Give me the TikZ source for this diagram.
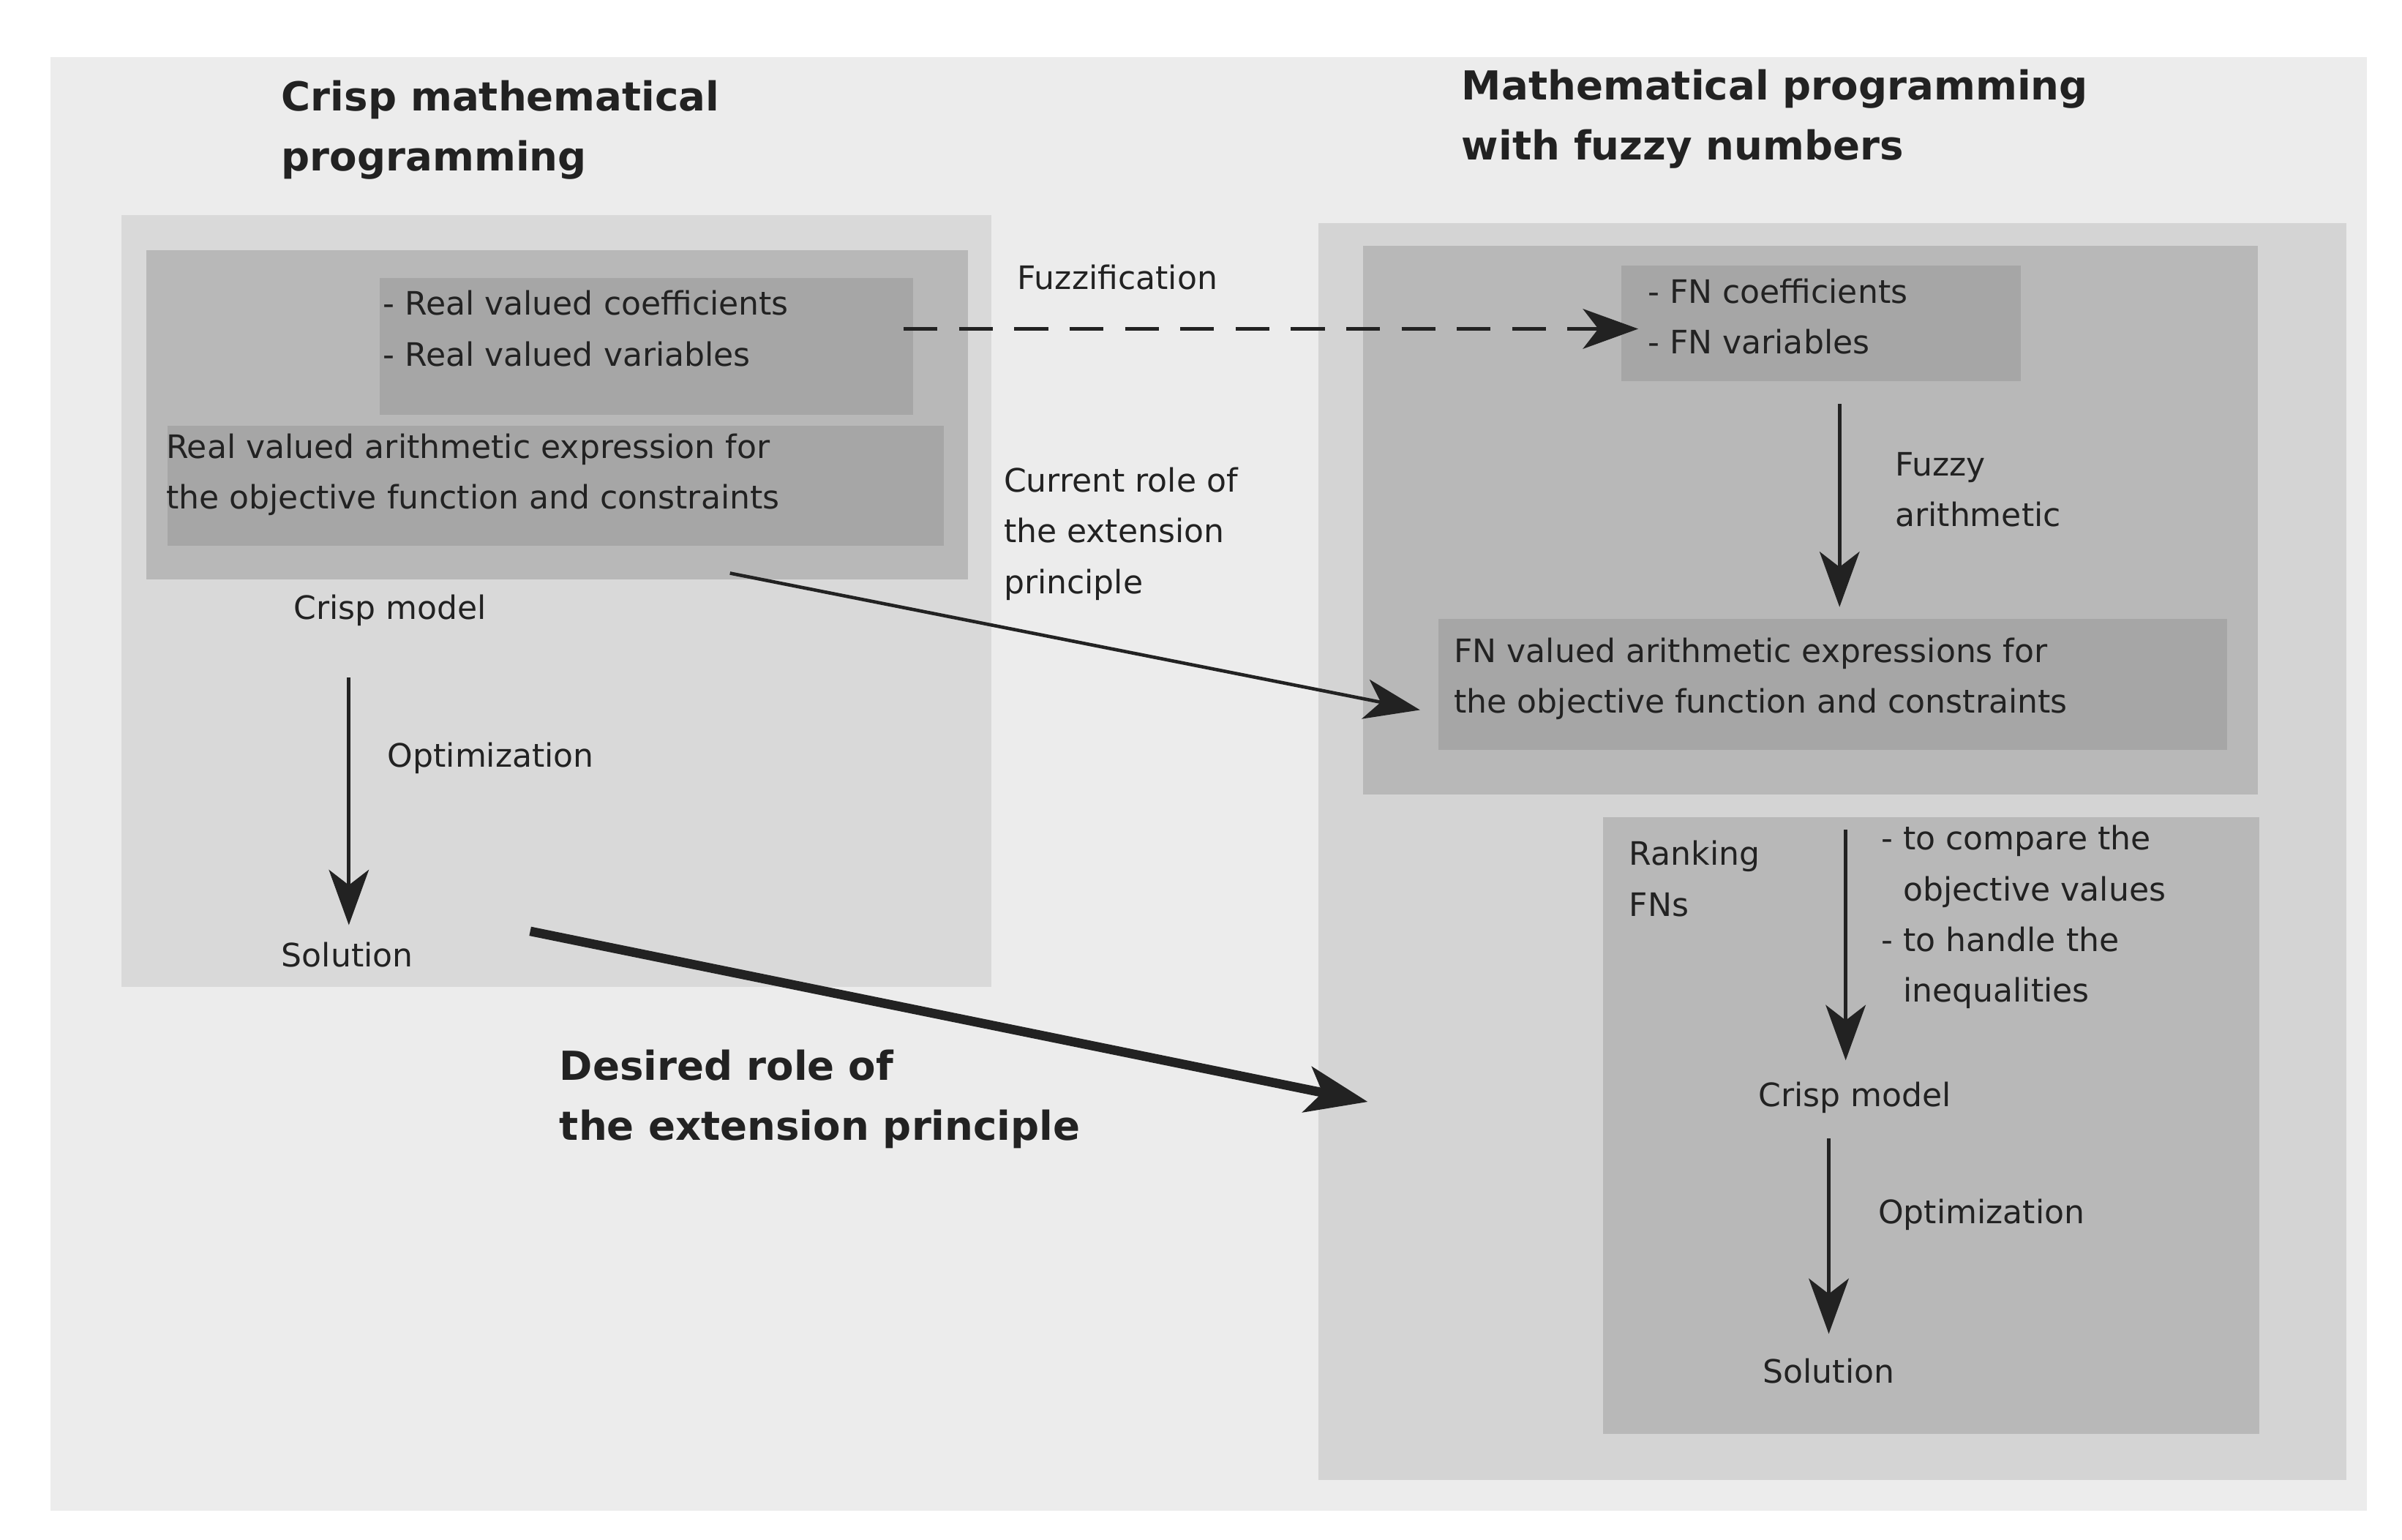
\documentclass[tikz,border=0pt]{standalone}
\usepackage{fontspec}
\setmainfont{DejaVu Sans}
\usetikzlibrary{arrows.meta}
\definecolor{txt}{HTML}{222222}
\begin{document}
\begin{tikzpicture}[x=1pt,y=-1pt,
  lbl/.style={anchor=north west,inner sep=0pt,text=txt,font=\fontsize{21}{33}\selectfont,align=left},
  ttl/.style={anchor=north west,inner sep=0pt,text=txt,font=\fontsize{26}{39}\selectfont\bfseries,align=left},
  arr/.style={-{Stealth[length=36pt,width=26pt,inset=10pt]},line width=2.2pt,draw=txt}]
\useasboundingbox (0,0) rectangle (1563,1002);
\fill[white] (0,0) rectangle (1563,1002);
\fill[color={rgb,255:red,236;green,236;blue,236}] (33,37) rectangle (1540,983);
\fill[color={rgb,255:red,217;green,217;blue,217}] (79,140) rectangle (645,642);
\fill[color={rgb,255:red,184;green,184;blue,184}] (95,163) rectangle (630,377);
\fill[color={rgb,255:red,166;green,166;blue,166}] (247,181) rectangle (594,270);
\fill[color={rgb,255:red,166;green,166;blue,166}] (109,277) rectangle (614,355);
\fill[color={rgb,255:red,212;green,212;blue,212}] (858,145) rectangle (1527,963);
\fill[color={rgb,255:red,184;green,184;blue,184}] (887,160) rectangle (1469,517);
\fill[color={rgb,255:red,166;green,166;blue,166}] (1055,173) rectangle (1315,248);
\fill[color={rgb,255:red,166;green,166;blue,166}] (936,403) rectangle (1449,488);
\fill[color={rgb,255:red,184;green,184;blue,184}] (1043,532) rectangle (1470,933);

\node[ttl] (t1) at (183,52) {Crisp mathematical\\programming};
\node[ttl] (t2) at (951,45) {Mathematical programming\\with fuzzy numbers};
\node[lbl] (coef) at (249,189) {- Real valued coefficients\\- Real valued variables};
\node[lbl] (arith) at (108,282) {Real valued arithmetic expression for\\the objective function and constraints};
\node[lbl] (cm1) at (191,387) {Crisp model};
\node[lbl] (opt1) at (252,483) {Optimization};
\node[lbl] (sol1) at (183,613) {Solution};
\node[lbl] (fuzz) at (662,172) {Fuzzification};
\node[lbl] (cur) at (653,304) {Current role of\\the extension\\principle};
\node[lbl] (fnc) at (1072,181) {- FN coefficients\\- FN variables};
\node[lbl] (fa) at (1233,294) {Fuzzy\\arithmetic};
\node[lbl] (fnar) at (946,415) {FN valued arithmetic expressions for\\the objective function and constraints};
\node[lbl] (rank) at (1060,547) {Ranking\\FNs};
\node[lbl] (cmp) at (1224,537) {- to compare the\\\hphantom{- }objective values\\- to handle the\\\hphantom{- }inequalities};
\node[lbl] (cm2) at (1144,704) {Crisp model};
\node[lbl] (opt2) at (1222,780) {Optimization};
\node[lbl] (sol2) at (1147,884) {Solution};
\node[ttl] (des) at (364,683) {Desired role of\\the extension principle};

\coordinate (a1) at (588,214); \coordinate (a2) at (1066,214);
\draw[arr,dashed,dash pattern=on 22pt off 14pt] (a1) -- (a2);
\coordinate (b1) at (227,441); \coordinate (b2) at (227,602);
\draw[arr] (b1) -- (b2);
\coordinate (c1) at (475,373); \coordinate (c2) at (924,462);
\draw[arr] (c1) -- (c2);
\coordinate (d1) at (345,606); \coordinate (d2) at (890,717);
\draw[arr,line width=6pt,-{Stealth[length=40pt,width=30pt,inset=10pt]}] (d1) -- (d2);
\coordinate (e1) at (1197,263); \coordinate (e2) at (1197,395);
\draw[arr] (e1) -- (e2);
\coordinate (f1) at (1201,540); \coordinate (f2) at (1201,690);
\draw[arr] (f1) -- (f2);
\coordinate (g1) at (1190,741); \coordinate (g2) at (1190,868);
\draw[arr] (g1) -- (g2);
\end{tikzpicture}
\end{document}
